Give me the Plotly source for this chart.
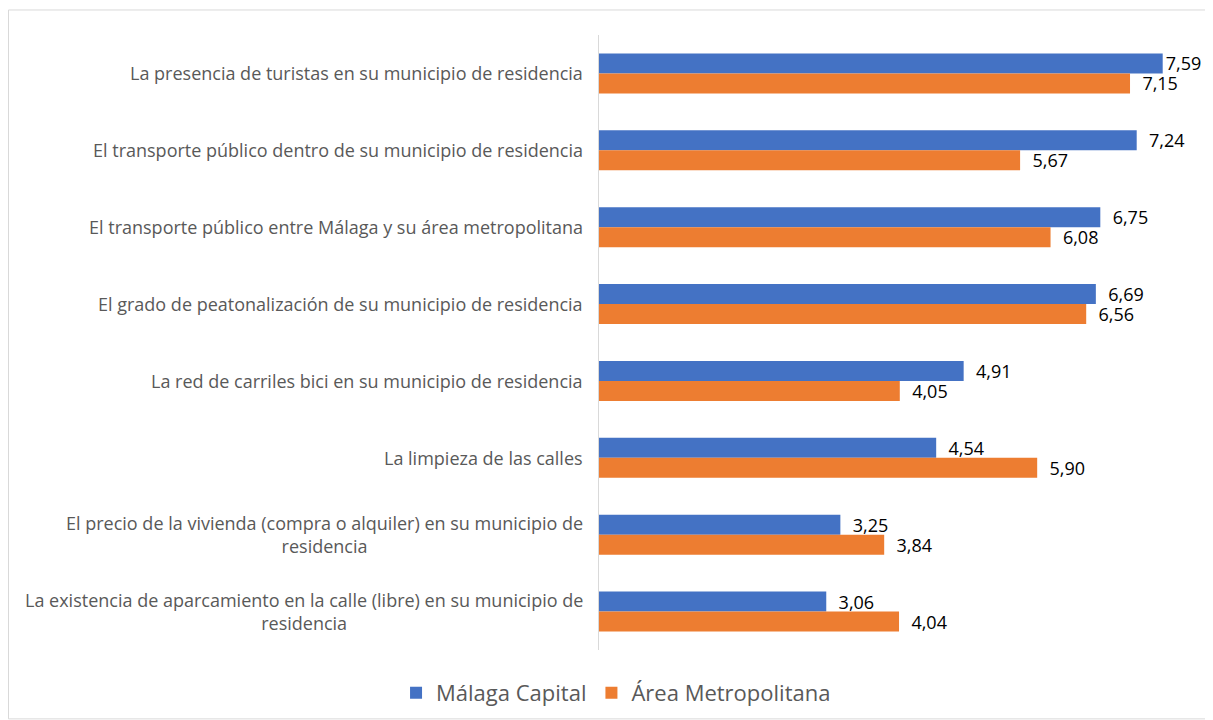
import plotly.graph_objects as go

categories = [
    "La presencia de turistas en su municipio de residencia",
    "El transporte público dentro de su municipio de residencia",
    "El transporte público entre Málaga y su área metropolitana",
    "El grado de peatonalización de su municipio de residencia",
    "La red de carriles bici en su municipio de residencia",
    "La limpieza de las calles",
    "El precio de la vivienda (compra o alquiler) en su municipio de<br>residencia",
    "La existencia de aparcamiento en la calle (libre) en su municipio de<br>residencia",
]
malaga = [7.59, 7.24, 6.75, 6.69, 4.91, 4.54, 3.25, 3.06]
area = [7.15, 5.67, 6.08, 6.56, 4.05, 5.90, 3.84, 4.04]
series_names = ["Málaga Capital", "Área Metropolitana"]
colors = ["#4472C4", "#ED7D31"]

FONT = "Open Sans"
XMAX = 8.2


def label(v):
    pad = "" if v > 7.5 else "\u00a0\u00a0"
    return pad + f"{v:.2f}".replace(".", ",")


fig = go.Figure()
for name, vals, col in zip(series_names, [malaga, area], colors):
    fig.add_trace(go.Bar(
        y=categories, x=vals, name=name, orientation="h",
        marker=dict(color=col, line=dict(width=0)),
        text=[label(v) for v in vals], textposition="outside",
        constraintext="none",
        textfont=dict(family=FONT, size=18, color="#000000"),
        cliponaxis=False, hoverinfo="skip",
    ))

annotations = []
for c in categories:
    annotations.append(dict(
        x=0, xref="paper", y=c, yref="y", text=c, showarrow=False,
        xanchor="right", yanchor="middle", align="center", xshift=-14,
        font=dict(family=FONT, size=18, color="#595959"),
    ))

fig.update_layout(
    width=1205, height=712,
    margin=dict(l=591, r=5, t=27, b=70),
    paper_bgcolor="white", plot_bgcolor="white",
    barmode="group", bargap=0.48, bargroupgap=0,
    showlegend=True,
    legend=dict(
        orientation="h", xref="container", yref="container",
        x=0.5046, y=0.038, xanchor="center", yanchor="middle",
        font=dict(family=FONT, size=22, color="#595959"),
        itemwidth=30, traceorder="normal",
    ),
    xaxis=dict(range=[0, XMAX], visible=False, fixedrange=True),
    yaxis=dict(autorange="reversed", showticklabels=False, ticks="",
               showline=True, linecolor="#D9D9D9", linewidth=1,
               showgrid=False, zeroline=False),
    annotations=annotations,
    shapes=[dict(type="rect", xref="paper", yref="paper",
                 x0=-0.9696, x1=1.02, y0=-0.112, y1=1.0407,
                 line=dict(color="#D9D9D9", width=1), fillcolor="rgba(0,0,0,0)",
                 layer="below")],
)

fig.write_html("out.html")
